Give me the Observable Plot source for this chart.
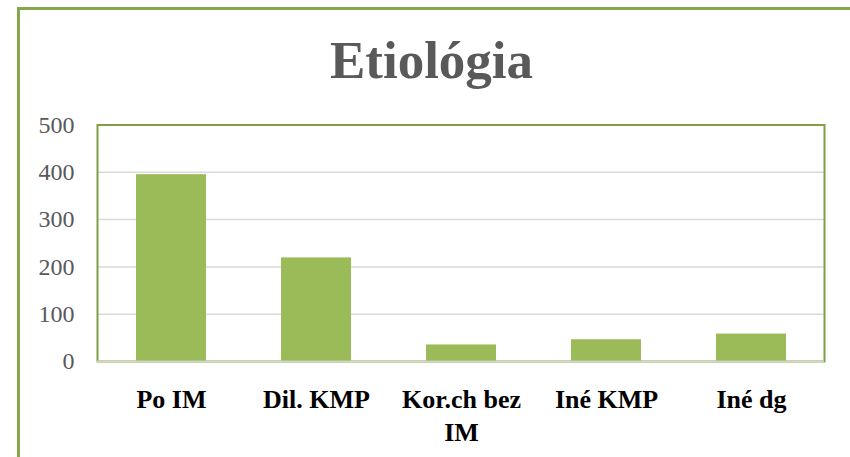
<!DOCTYPE html>
<html>
<head>
<meta charset="utf-8">
<script src="https://cdn.jsdelivr.net/npm/d3@7"></script>
<script src="https://cdn.jsdelivr.net/npm/@observablehq/plot@0.6"></script>
<style>
  html, body { margin: 0; padding: 0; background: #fff; }
  #wrap { position: relative; width: 850px; height: 457px; overflow: hidden; }
  #border { position: absolute; left: 17px; top: 7px; width: 900px; height: 520px;
            border-left: 3px solid #86a74c; border-top: 3px solid #86a74c; box-sizing: border-box; }
  #title { position: absolute; left: 0; top: 34px; width: 863px; text-align: center;
           font-family: "Liberation Serif", serif; font-weight: bold; font-size: 53px;
           line-height: 53px; color: #595959; }
  #chart { position: absolute; left: 0; top: 100px; }
</style>
</head>
<body>
<div id="wrap">
  <div id="border"></div>
  <div id="title">Etiológia</div>
  <div id="chart"></div>
</div>
<script>
const categories = ["Po IM", "Dil. KMP", "Kor.ch bez IM", "Iné KMP", "Iné dg"];
const tickLabels = ["Po IM", "Dil. KMP", "Kor.ch bez\nIM", "Iné KMP", "Iné dg"];
const values = [395, 219, 35, 46, 58];
const yTicks = [0, 100, 200, 300, 400, 500];

const data = categories.map((c, i) => ({category: c, value: values[i]}));
const labelOf = new Map(categories.map((c, i) => [c, tickLabels[i]]));

const chart = Plot.plot({
  width: 850,
  height: 357,
  marginLeft: 97,
  marginRight: 26,
  marginTop: 24.5,
  marginBottom: 96,
  style: {fontFamily: "Liberation Serif", background: "transparent"},
  x: {domain: categories, paddingInner: 0.52, paddingOuter: 0.26, label: null},
  y: {domain: [0, 500], label: null},
  marks: [
    Plot.gridY(yTicks, {stroke: "#d9d9d9", strokeOpacity: 1, strokeWidth: 1.5}),
    Plot.barY(data, {x: "category", y: "value", fill: "#9bbb59"}),
    Plot.frame({stroke: "#7f9f45", strokeWidth: 2}),
    Plot.ruleY([0], {stroke: "#d2d9c6", strokeWidth: 2}),
    Plot.axisY({ticks: yTicks, tickSize: 0, tickPadding: 23, fontSize: 24,
                fill: "#595959", fontFamily: "Liberation Serif", label: null}),
    Plot.axisX({tickSize: 0, tickPadding: 23, fontSize: 26, fontWeight: "bold",
                fill: "#000", fontFamily: "Liberation Serif", lineHeight: 1.28,
                tickFormat: d => labelOf.get(d), label: null})
  ]
});
document.getElementById("chart").appendChild(chart);
</script>
</body>
</html>
